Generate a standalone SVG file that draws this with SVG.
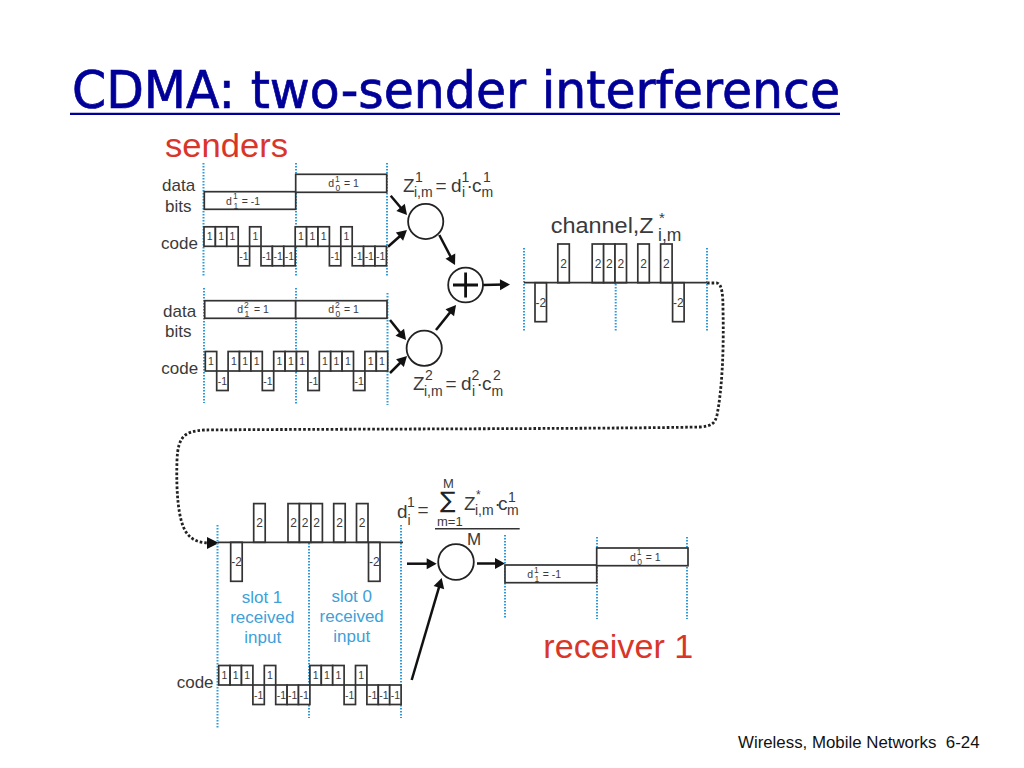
<svg xmlns="http://www.w3.org/2000/svg" width="1024" height="768" viewBox="0 0 1024 768">
<style>
text{font-family:"Liberation Sans",sans-serif;fill:#3a3a3a}
.title{font-family:"DejaVu Sans",sans-serif;font-size:51px;fill:#000099;stroke:#000099;stroke-width:.7}
.foot{font-size:16.85px;fill:#111;white-space:pre}
.red{fill:#d9362b}
.blue{fill:#3f9fd8;font-size:17px;text-anchor:middle}
.lab{font-size:17px}
.chip{font-size:10.5px;text-anchor:middle}
.val{font-size:12px;text-anchor:middle}
.dl{font-size:10.5px}
.ds{font-size:8.5px}
.eq{font-size:19px}
.es{font-size:14px}
.box,use{fill:#fff;stroke:#333;stroke-width:1.7}
.sep{fill:none;stroke:#2f9bd6;stroke-width:2;stroke-dasharray:1.6 1.4}
.arr{fill:none;stroke:#111;stroke-width:2.5;marker-end:url(#ah)}
.dot{fill:none;stroke:#222;stroke-width:2.8;stroke-dasharray:2.6 2}
.ring{fill:#fff;stroke:#222;stroke-width:1.8}
.base{stroke:#333;stroke-width:1.8;fill:none}
</style>
<defs>
<marker id="ah" markerUnits="userSpaceOnUse" markerWidth="14" markerHeight="14" refX="7" refY="7" orient="auto" viewBox="0 0 14 14"><path d="M2 1.5 L12 7 L2 12.5 Z" fill="#111"/></marker>
<rect id="u" y="-19.5" width="11.4" height="19.5"/>
<rect id="n" y="0" width="11.4" height="19.5"/>
<rect id="U" y="-38.7" width="11.5" height="38.7"/>
<rect id="N" y="0" width="11.5" height="39"/>
</defs>

<text class="title" x="72" y="108" textLength="768" lengthAdjust="spacingAndGlyphs">CDMA: two-sender interference</text>
<path d="M70 113.8H840" stroke="#000099" stroke-width="2.3"/>
<text class="red" x="165" y="156.5" font-size="33" textLength="123" lengthAdjust="spacingAndGlyphs">senders</text>

<g id="connectors">
<path class="arr" d="M390.7 195.7L403.8 211.2"/>
<path class="arr" d="M388 246.7L403.2 233.3"/>
<path class="arr" d="M439.3 235L452.7 260.6"/>
<path class="arr" d="M436 330L452.9 308.9"/>
<path class="arr" d="M390 320L402.9 336.1"/>
<path class="arr" d="M390 373L403.5 359.5"/>
<path class="arr" d="M483 285L505 284.6"/>
<path class="dot" d="M707 283H717C722 284 723 295 723 310C724 350 722 390 717 415C715 424 711 426 700 427C600 429 300 429 205 430C185 431 178 436 177 460C176 490 178 520 186 532C192 541 200 543 212 543"/>
<path d="M207 537L219 543L207 549Z" fill="#111"/>
<path class="arr" d="M407 563.7H431.7"/>
<path class="arr" d="M477 563.5H500"/>
<path class="arr" d="M411.7 680L440.3 582.8"/>
</g>

<g id="sender1-data">
<text class="lab" x="162" y="190.7">data</text>
<text class="lab" x="165" y="211.5">bits</text>
<path class="sep" d="M203.5 163V277M296 163V277M387 163V277"/>
<rect class="box" x="204.3" y="191.7" width="91.4" height="17.6"/>
<rect class="box" x="295.7" y="174.3" width="91" height="18"/>
<text class="dl" x="226" y="205">d</text><text class="ds" x="233" y="199">1</text><text class="ds" x="233.5" y="208.5">1</text><text class="dl" x="241.7" y="205">= -1</text>
<text class="dl" x="328.3" y="187.3">d</text><text class="ds" x="335" y="181.5">1</text><text class="ds" x="335.5" y="191">0</text><text class="dl" x="344" y="187.3">= 1</text>
</g>

<g id="sender1-code" transform="translate(204 246.3)">
<text class="lab" x="-43" y="3">code</text>
<use href="#u" x="0"/><use href="#u" x="11.4"/><use href="#u" x="22.8"/><use href="#n" x="34.2"/><use href="#u" x="45.6"/><use href="#n" x="57"/><use href="#n" x="68.4"/><use href="#n" x="79.8"/>
<use href="#u" x="91.2"/><use href="#u" x="102.6"/><use href="#u" x="114"/><use href="#n" x="125.4"/><use href="#u" x="136.8"/><use href="#n" x="148.2"/><use href="#n" x="159.6"/><use href="#n" x="171"/>
<text class="chip" x="5.7" y="-6">1</text><text class="chip" x="17.1" y="-6">1</text><text class="chip" x="28.5" y="-6">1</text><text class="chip" x="39.9" y="14">-1</text><text class="chip" x="51.3" y="-6">1</text><text class="chip" x="62.7" y="14">-1</text><text class="chip" x="74.1" y="14">-1</text><text class="chip" x="85.5" y="14">-1</text>
<text class="chip" x="96.9" y="-6">1</text><text class="chip" x="108.3" y="-6">1</text><text class="chip" x="119.7" y="-6">1</text><text class="chip" x="131.1" y="14">-1</text><text class="chip" x="142.5" y="-6">1</text><text class="chip" x="153.9" y="14">-1</text><text class="chip" x="165.3" y="14">-1</text><text class="chip" x="176.7" y="14">-1</text>
</g>

<g id="mixer1">
<circle class="ring" cx="425.7" cy="221.5" r="17.6"/>
<text class="eq" x="403" y="191.7">Z</text><text class="es" x="415" y="181.7">1</text><text class="es" x="414" y="197">i,m</text><text class="eq" x="435.5" y="191.7">=</text><text class="eq" x="451" y="191.7">d</text><text class="es" x="461.5" y="181.7">1</text><text class="es" x="462" y="197">i</text><text class="eq" x="466.5" y="191.7">·</text><text class="eq" x="472" y="191.7">c</text><text class="es" x="483" y="181.7">1</text><text class="es" x="481.5" y="197">m</text>
</g>

<g id="sender2-data">
<text class="lab" x="163" y="316.7">data</text>
<text class="lab" x="165" y="336.7">bits</text>
<path class="sep" d="M204 288V403M296 288V405M387.5 293V405"/>
<rect class="box" x="204.7" y="300.7" width="91" height="17.6"/>
<rect class="box" x="295.7" y="300.7" width="91.3" height="17.6"/>
<text class="dl" x="237.3" y="313.3">d</text><text class="ds" x="244" y="307.5">2</text><text class="ds" x="244.5" y="317">1</text><text class="dl" x="254" y="313.3">= 1</text>
<text class="dl" x="328.3" y="313.3">d</text><text class="ds" x="335" y="307.5">2</text><text class="ds" x="335.5" y="317">0</text><text class="dl" x="344" y="313.3">= 1</text>
</g>

<g id="sender2-code" transform="translate(205.3 371)">
<text class="lab" x="-44" y="3.3">code</text>
<use href="#u" x="0"/><use href="#n" x="11.4"/><use href="#u" x="22.8"/><use href="#u" x="34.2"/><use href="#u" x="45.6"/><use href="#n" x="57"/><use href="#u" x="68.4"/><use href="#u" x="79.8"/>
<use href="#u" x="91.2"/><use href="#n" x="102.6"/><use href="#u" x="114"/><use href="#u" x="125.4"/><use href="#u" x="136.8"/><use href="#n" x="148.2"/><use href="#u" x="159.6"/><use href="#u" x="171"/>
<text class="chip" x="5.7" y="-6">1</text><text class="chip" x="17.1" y="14">-1</text><text class="chip" x="28.5" y="-6">1</text><text class="chip" x="39.9" y="-6">1</text><text class="chip" x="51.3" y="-6">1</text><text class="chip" x="62.7" y="14">-1</text><text class="chip" x="74.1" y="-6">1</text><text class="chip" x="85.5" y="-6">1</text>
<text class="chip" x="96.9" y="-6">1</text><text class="chip" x="108.3" y="14">-1</text><text class="chip" x="119.7" y="-6">1</text><text class="chip" x="131.1" y="-6">1</text><text class="chip" x="142.5" y="-6">1</text><text class="chip" x="153.9" y="14">-1</text><text class="chip" x="165.3" y="-6">1</text><text class="chip" x="176.7" y="-6">1</text>
</g>

<g id="mixer2">
<circle class="ring" cx="424.2" cy="348.3" r="17.6"/>
<g transform="translate(10 198.5)">
<text class="eq" x="403" y="191.7">Z</text><text class="es" x="415" y="181.7">2</text><text class="es" x="414" y="197">i,m</text><text class="eq" x="435.5" y="191.7">=</text><text class="eq" x="451" y="191.7">d</text><text class="es" x="461.5" y="181.7">2</text><text class="es" x="462" y="197">i</text><text class="eq" x="466.5" y="191.7">·</text><text class="eq" x="472" y="191.7">c</text><text class="es" x="483" y="181.7">2</text><text class="es" x="481.5" y="197">m</text>
</g>
</g>

<g id="adder">
<circle class="ring" cx="465.6" cy="285" r="17.4"/>
<path d="M453 285H478M465.6 272.5V297.5" stroke="#111" stroke-width="2.8" fill="none"/>
</g>

<g id="channel">
<text x="550.7" y="232.7" font-size="22" textLength="103" lengthAdjust="spacingAndGlyphs">channel,Z</text>
<text x="659" y="223" font-size="15">*</text>
<text x="658" y="240.7" font-size="17.5">i,m</text>
<path class="sep" d="M524 248V331M615.7 248V331M707 248V331"/>
<g transform="translate(0 282.7)">
<use href="#N" x="535"/><use href="#U" x="557.8"/><use href="#U" x="592.2"/><use href="#U" x="603.6"/><use href="#U" x="615"/><use href="#U" x="637.8"/><use href="#U" x="660.6"/><use href="#N" x="672.6"/>
<text class="val" x="540.8" y="24">-2</text><text class="val" x="563.5" y="-15">2</text><text class="val" x="598" y="-15">2</text><text class="val" x="609.4" y="-15">2</text><text class="val" x="620.8" y="-15">2</text><text class="val" x="643.5" y="-15">2</text><text class="val" x="666.4" y="-15">2</text><text class="val" x="678.4" y="24">-2</text>
</g>
<path class="base" d="M524 282.7H707"/>
</g>

<g id="received">
<path class="sep" d="M217.5 525V728M309 525V718M401 525V718"/>
<g transform="translate(0 542.3)">
<use href="#N" x="230.7"/><use href="#U" x="253.7"/><use href="#U" x="288"/><use href="#U" x="299.4"/><use href="#U" x="310.9"/><use href="#U" x="333.7"/><use href="#U" x="356.5"/><use href="#N" x="368.5"/>
<text class="val" x="236.5" y="24">-2</text><text class="val" x="259.5" y="-15">2</text><text class="val" x="293.7" y="-15">2</text><text class="val" x="305.1" y="-15">2</text><text class="val" x="316.6" y="-15">2</text><text class="val" x="339.5" y="-15">2</text><text class="val" x="362.2" y="-15">2</text><text class="val" x="374.3" y="24">-2</text>
</g>
<path class="base" d="M218 542.3H403"/>
<text class="blue" x="262" y="602.7">slot 1</text><text class="blue" x="262.3" y="622.7">received</text><text class="blue" x="262.7" y="643">input</text>
<text class="blue" x="351.7" y="601.7">slot 0</text><text class="blue" x="351.7" y="622">received</text><text class="blue" x="351.7" y="642">input</text>
</g>

<g id="receiver-code" transform="translate(218.7 685)">
<text class="lab" x="-42" y="2.5">code</text>
<use href="#u" x="0"/><use href="#u" x="11.4"/><use href="#u" x="22.8"/><use href="#n" x="34.2"/><use href="#u" x="45.6"/><use href="#n" x="57"/><use href="#n" x="68.4"/><use href="#n" x="79.8"/>
<use href="#u" x="91.2"/><use href="#u" x="102.6"/><use href="#u" x="114"/><use href="#n" x="125.4"/><use href="#u" x="136.8"/><use href="#n" x="148.2"/><use href="#n" x="159.6"/><use href="#n" x="171"/>
<text class="chip" x="5.7" y="-6">1</text><text class="chip" x="17.1" y="-6">1</text><text class="chip" x="28.5" y="-6">1</text><text class="chip" x="39.9" y="14">-1</text><text class="chip" x="51.3" y="-6">1</text><text class="chip" x="62.7" y="14">-1</text><text class="chip" x="74.1" y="14">-1</text><text class="chip" x="85.5" y="14">-1</text>
<text class="chip" x="96.9" y="-6">1</text><text class="chip" x="108.3" y="-6">1</text><text class="chip" x="119.7" y="-6">1</text><text class="chip" x="131.1" y="14">-1</text><text class="chip" x="142.5" y="-6">1</text><text class="chip" x="153.9" y="14">-1</text><text class="chip" x="165.3" y="14">-1</text><text class="chip" x="176.7" y="14">-1</text>
</g>

<g id="decoder">
<circle class="ring" cx="456" cy="562" r="17.8"/>
<text class="eq" x="397" y="518.3">d</text><text class="es" x="407" y="506.7">1</text><text class="es" x="407.5" y="525">i</text><text class="eq" x="417.5" y="516">=</text>
<text x="443" y="488.3" font-size="13">M</text>
<text x="440" y="508" font-size="23" style="font-family:'DejaVu Sans',sans-serif;fill:#222">∑</text>
<text x="437" y="525.5" font-size="13">m=1</text>
<text class="eq" x="464" y="510">Z</text><text x="476" y="499" font-size="12">*</text><text class="es" x="475" y="515">i,m</text><text class="eq" x="494.5" y="510">·</text><text class="eq" x="498" y="510">c</text><text class="es" x="508" y="501.7">1</text><text class="es" x="507" y="514.5">m</text>
<path d="M435 528.7H519.7" stroke="#333" stroke-width="1.5"/>
<text x="467" y="545" font-size="17">M</text>
</g>

<g id="receiver-output">
<path class="sep" d="M505 535V618M597 537V619M687 537V619"/>
<rect class="box" x="505" y="565" width="91.7" height="17.7"/>
<rect class="box" x="596.7" y="548" width="91.3" height="17.7"/>
<text class="dl" x="527.3" y="578.3">d</text><text class="ds" x="534" y="572.5">1</text><text class="ds" x="534.5" y="582">1</text><text class="dl" x="542.7" y="578.3">= -1</text>
<text class="dl" x="630" y="560.7">d</text><text class="ds" x="636.7" y="555">1</text><text class="ds" x="637.2" y="564.5">0</text><text class="dl" x="645.7" y="560.7">= 1</text>
<text class="red" x="543.3" y="658.3" font-size="33" textLength="150" lengthAdjust="spacingAndGlyphs">receiver 1</text>
</g>

<text class="foot" x="738" y="747.7">Wireless, Mobile Networks  6-24</text>
</svg>
